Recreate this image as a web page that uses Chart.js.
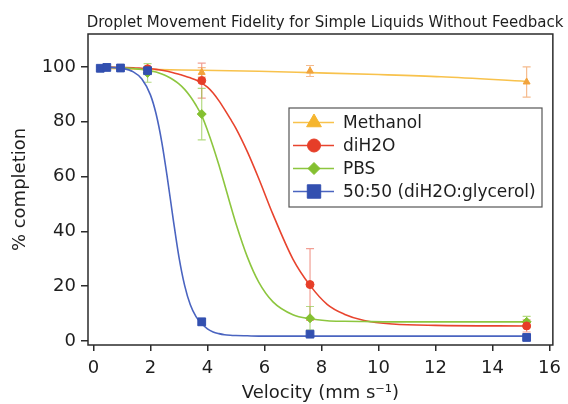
<!DOCTYPE html>
<html>
<head>
<meta charset="utf-8">
<script src="https://cdn.jsdelivr.net/npm/chart.js@4"></script>
<style>
  html, body { margin: 0; padding: 0; background: #fff; }
</style>
</head>
<body>
<canvas id="chart" width="568" height="404"></canvas>
<script>
// measured points (mean and error) at each velocity, mm/s
const velocity = [1.9, 3.8, 7.6, 15.2];
const methanolCompletion = [99.4, 98.0, 98.5, 94.5];
const methanolError = [0.6, 1.7, 2.0, 5.5];
const waterCompletion = [99.3, 95.0, 20.6, 5.5];
const waterError = [0.6, 6.4, 13.1, 2.2];
const pbsCompletion = [97.8, 82.8, 8.3, 7.0];
const pbsError = [3.4, 9.4, 4.3, 2.0];
const glycerolVelocity = [0.24, 0.47, 0.95, 1.9, 3.8, 7.6, 15.2];
const glycerolCompletion = [99.5, 99.8, 99.6, 98.6, 7.0, 2.5, 1.3];
const glycerolError = [0.5, 0.5, 0.5, 1.2, 1.3, 0.8, 0.6];

// fitted curves
const fitVelocity = [0.2, 0.6, 1.0, 1.4, 1.7, 2.0, 2.2, 2.4, 2.6, 2.8, 3.0, 3.2, 3.4, 3.6, 3.8, 4.0,
  4.2, 4.4, 4.6, 4.8, 5.0, 5.4, 5.8, 6.3, 7.0, 7.6, 8.2, 8.8, 9.5, 10.5, 12, 15.2];
const waterFit = [100.0, 99.9, 99.8, 99.7, 99.5, 99.3, 99.1, 98.8, 98.4, 97.9, 97.3, 96.7, 96.0, 95.2, 94.1, 92.6,
  90.5, 87.7, 84.5, 81.1, 77.6, 69.1, 59.3, 46.2, 29.9, 20.3, 13.4, 9.8, 7.5, 6.2, 5.7, 5.5];
const pbsFit = [99.9, 99.8, 99.7, 99.4, 99.1, 98.6, 98.1, 97.4, 96.5, 95.3, 93.8, 91.8, 89.2, 86.0, 82.2, 76.9,
  70.9, 64.3, 57.2, 49.9, 42.9, 30.7, 21.5, 14.3, 9.6, 8.1, 7.4, 7.2, 7.1, 7.0, 7.0, 7.0];
const glycerolFit = [100.0, 99.8, 99.5, 98.2, 95.6, 89.8, 82.8, 72.5, 59.1, 44.4, 30.7, 20.3, 13.2, 8.9, 6.4, 4.4,
  3.3, 2.7, 2.3, 2.1, 2.0, 1.9, 1.8, 1.8, 1.8, 1.8, 1.8, 1.8, 1.8, 1.8, 1.8, 1.8];
const methanolFitVelocity = [0.2, 2.3, 3.8, 5.8, 7.6, 10.0, 12.2, 15.2];
const methanolFit = [99.5, 99.0, 98.8, 98.4, 97.9, 97.2, 96.4, 94.7];

const xTicks = [0, 2, 4, 6, 8, 10, 12, 14, 16];
const yTicks = [0, 20, 40, 60, 80, 100];

const FONT = "'DejaVu Sans', sans-serif";
const INK = "#1e1e1e";

const series = {
  methanol: { label: "Methanol", line: "#F8C24C", marker: "#F2A33C", key: "#F5B52E", err: "rgba(240,150,80,0.65)", style: "triangle", r: 4, keyR: 8.5 },
  water: { label: "diH2O", line: "#E8442E", marker: "#E63E28", key: "#E63E28", err: "rgba(232,80,60,0.55)", style: "circle", r: 4, keyR: 6.5 },
  pbs: { label: "PBS", line: "#8DC63F", marker: "#84C030", key: "#84C030", err: "rgba(140,198,63,0.65)", style: "rectRot", r: 4.5, keyR: 6 },
  glycerol: { label: "50:50 (diH2O:glycerol)", line: "#4A64C0", marker: "#3350B0", key: "#3350B0", err: "rgba(60,90,180,0.5)", style: "rect", r: 5.5, keyR: 9.5 },
};

function toPoints(xs, ys) {
  return xs.map((x, i) => ({ x, y: ys[i] }));
}

function pointSet(s, xs, ys, errs) {
  return {
    label: s.label,
    data: toPoints(xs, ys),
    errors: errs,
    errorColor: s.err,
    showLine: false,
    pointStyle: s.style,
    pointRadius: s.r,
    pointBackgroundColor: s.marker,
    pointBorderColor: s.marker,
    pointBorderWidth: 1,
  };
}

function fitSet(s, xs, ys) {
  return {
    label: s.label + " fit",
    data: toPoints(xs, ys),
    showLine: true,
    borderColor: s.line,
    borderWidth: 1.6,
    pointRadius: 0,
    cubicInterpolationMode: "monotone",
    fill: false,
  };
}

const errorBars = {
  id: "errorBars",
  beforeDatasetsDraw(chart) {
    const { ctx, scales: { x, y } } = chart;
    ctx.save();
    ctx.lineWidth = 1.2;
    chart.data.datasets.forEach((ds) => {
      if (!ds.errors) return;
      ctx.strokeStyle = ds.errorColor;
      ds.data.forEach((p, i) => {
        const px = x.getPixelForValue(p.x);
        const top = y.getPixelForValue(p.y + ds.errors[i]);
        const bot = y.getPixelForValue(p.y - ds.errors[i]);
        ctx.beginPath();
        ctx.moveTo(px, top);
        ctx.lineTo(px, bot);
        ctx.moveTo(px - 4, top);
        ctx.lineTo(px + 4, top);
        ctx.moveTo(px - 4, bot);
        ctx.lineTo(px + 4, bot);
        ctx.stroke();
      });
    });
    ctx.restore();
  },
};

const frame = {
  id: "frame",
  afterDraw(chart) {
    const { ctx, chartArea: a } = chart;
    ctx.save();
    ctx.strokeStyle = "#2b2b2b";
    ctx.lineWidth = 1.5;
    ctx.strokeRect(a.left, a.top, a.right - a.left, a.bottom - a.top);

    // title
    ctx.fillStyle = INK;
    ctx.font = "15px " + FONT;
    ctx.textAlign = "center";
    ctx.textBaseline = "alphabetic";
    ctx.fillText("Droplet Movement Fidelity for Simple Liquids Without Feedback", 325, 26.5);

    // legend box
    const box = { left: 289, top: 108, width: 253, height: 99 };
    ctx.fillStyle = "#fff";
    ctx.fillRect(box.left, box.top, box.width, box.height);
    ctx.strokeStyle = "#555";
    ctx.lineWidth = 1.2;
    ctx.strokeRect(box.left, box.top, box.width, box.height);

    ["methanol", "water", "pbs", "glycerol"].forEach((k, i) => {
      const s = series[k];
      const cy = 122.5 + i * 23;
      ctx.strokeStyle = s.line;
      ctx.lineWidth = 1.4;
      ctx.beginPath();
      ctx.moveTo(293, cy);
      ctx.lineTo(334, cy);
      ctx.stroke();
      ctx.fillStyle = s.key;
      ctx.strokeStyle = s.key;
      ctx.lineWidth = 1;
      Chart.helpers.drawPoint(ctx, { pointStyle: s.style, radius: s.keyR, rotation: 0, borderWidth: 1 }, 314, cy);
      ctx.fillStyle = INK;
      ctx.font = "17px " + FONT;
      ctx.textAlign = "left";
      ctx.textBaseline = "middle";
      ctx.fillText(s.label, 343, cy + 1);
    });
    ctx.restore();
  },
};

new Chart(document.getElementById("chart"), {
  type: "scatter",
  data: {
    datasets: [
      pointSet(series.glycerol, glycerolVelocity, glycerolCompletion, glycerolError),
      pointSet(series.water, velocity, waterCompletion, waterError),
      pointSet(series.pbs, velocity, pbsCompletion, pbsError),
      pointSet(series.methanol, velocity, methanolCompletion, methanolError),
      fitSet(series.glycerol, fitVelocity, glycerolFit),
      fitSet(series.pbs, fitVelocity, pbsFit),
      fitSet(series.water, fitVelocity, waterFit),
      fitSet(series.methanol, methanolFitVelocity, methanolFit),
    ],
  },
  options: {
    responsive: false,
    animation: false,
    devicePixelRatio: 1,
    layout: { padding: { top: 34, right: 15, left: 0, bottom: 0 } },
    plugins: {
      legend: { display: false },
      title: { display: false },
      tooltip: { enabled: false },
    },
    scales: {
      x: {
        type: "linear",
        min: -0.19,
        max: 16.12,
        afterBuildTicks: (s) => { s.ticks = xTicks.map((v) => ({ value: v })); },
        afterFit: (s) => { s.height = 59; },
        border: { display: false },
        grid: { drawOnChartArea: false, tickLength: 6, color: "#2b2b2b", lineWidth: 1.5 },
        ticks: { color: INK, font: { family: FONT, size: 18 }, padding: 7, maxRotation: 0 },
        title: {
          display: true,
          text: "Velocity (mm s\u207B\u00B9)",
          color: INK,
          font: { family: FONT, size: 18 },
          padding: { top: 0, bottom: 0 },
        },
      },
      y: {
        type: "linear",
        min: -1.45,
        max: 112,
        afterBuildTicks: (s) => { s.ticks = yTicks.map((v) => ({ value: v })); },
        afterFit: (s) => { s.width = 88; },
        border: { display: false },
        grid: { drawOnChartArea: false, tickLength: 7, color: "#2b2b2b", lineWidth: 1.5 },
        ticks: { color: INK, font: { family: FONT, size: 18 }, padding: 5 },
        title: {
          display: true,
          text: "% completion",
          color: INK,
          font: { family: FONT, size: 18 },
          padding: { top: 10, bottom: 0 },
        },
      },
    },
  },
  plugins: [errorBars, frame],
});
</script>
</body>
</html>
